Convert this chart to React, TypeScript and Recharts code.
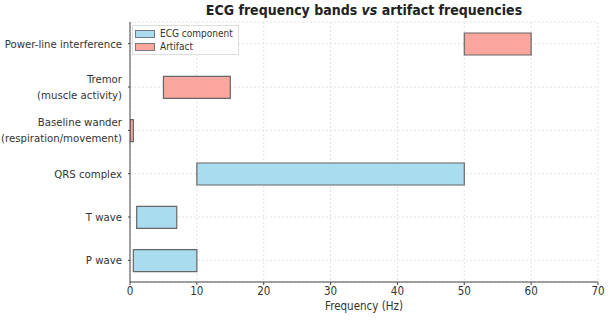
import { BarChart, Bar, XAxis, YAxis, CartesianGrid, Cell } from "recharts";

const bands = [
  "Power-line interference",
  "Tremor\n(muscle activity)",
  "Baseline wander\n(respiration/movement)",
  "QRS complex",
  "T wave",
  "P wave",
];
const lows = [50, 5, 0, 10, 1, 0.5];
const highs = [60, 15, 0.5, 50, 7, 10];
const kinds = ["Artifact", "Artifact", "Artifact", "ECG component", "ECG component", "ECG component"];
const xTicks = [0, 10, 20, 30, 40, 50, 60, 70];

const COLORS: Record<string, string> = {
  "ECG component": "#a9dcef",
  Artifact: "#f9a69e",
};

const data = bands.map((b, i) => ({ band: b, range: [lows[i], highs[i]], kind: kinds[i] }));

const FONT = "'DejaVu Sans Condensed', 'DejaVu Sans', sans-serif";

function BandTick({ x, y, payload }: any) {
  const lines = String(payload.value).split("\n");
  const start = -((lines.length - 1) * 16) / 2;
  return (
    <text x={x - 4} y={y} textAnchor="end" fill="#333" fontSize={11.3} fontFamily={FONT}>
      {lines.map((l, i) => (
        <tspan key={i} x={x - 4} dy={i === 0 ? start + 4 : 16}>
          {l}
        </tspan>
      ))}
    </text>
  );
}

function LegendBox() {
  const items = ["ECG component", "Artifact"];
  return (
    <div
      style={{
        position: "absolute",
        left: 132,
        top: 25,
        border: "1px solid #ddd",
        background: "rgba(255,255,255,0.9)",
        padding: "1px 5px 1px 2px",
        fontFamily: FONT,
        fontSize: 10,
        color: "#333",
        lineHeight: "13px",
      }}
    >
      {items.map((k) => (
        <div key={k} style={{ display: "flex", alignItems: "center" }}>
          <span
            style={{
              display: "inline-block",
              width: 18,
              height: 6,
              background: COLORS[k],
              border: "1px solid #777",
              marginRight: 5,
            }}
          />
          {k}
        </div>
      ))}
    </div>
  );
}

export default function App() {
  return (
    <div style={{ position: "absolute", left: 0, top: 0, width: 610, height: 335, background: "#fff" }}>
      <div
        style={{
          position: "absolute",
          left: 130,
          width: 468,
          top: 2,
          textAlign: "center",
          fontFamily: FONT,
          fontWeight: "bold",
          fontSize: 14,
          color: "#222",
        }}
      >
        ECG frequency bands <i>vs</i> artifact frequencies
      </div>
      <BarChart
        width={610}
        height={335}
        data={data}
        layout="vertical"
        margin={{ top: 22, right: 12, bottom: 13, left: 0 }}
        barCategoryGap={0}
      >
        <CartesianGrid stroke="#e2e2e2" strokeDasharray="2 2" />
        <XAxis
          type="number"
          domain={[0, 70]}
          ticks={xTicks}
          allowDataOverflow
          height={40}
          tick={{ fill: "#333", fontSize: 11.5, fontFamily: FONT }}
          tickSize={3}
          stroke="#444"
          label={{ value: "Frequency (Hz)", position: "insideBottom", offset: 12, fill: "#333", fontSize: 11.5, fontFamily: FONT }}
        />
        <YAxis
          type="category"
          dataKey="band"
          width={130}
          tick={<BandTick />}
          tickSize={2}
          stroke="#444"
          interval={0}
        />
        <Bar dataKey="range" barSize={22} stroke="#666" strokeWidth={1.2} isAnimationActive={false}>
          {data.map((d) => (
            <Cell key={d.band} fill={COLORS[d.kind]} />
          ))}
        </Bar>
      </BarChart>
      <LegendBox />
    </div>
  );
}
